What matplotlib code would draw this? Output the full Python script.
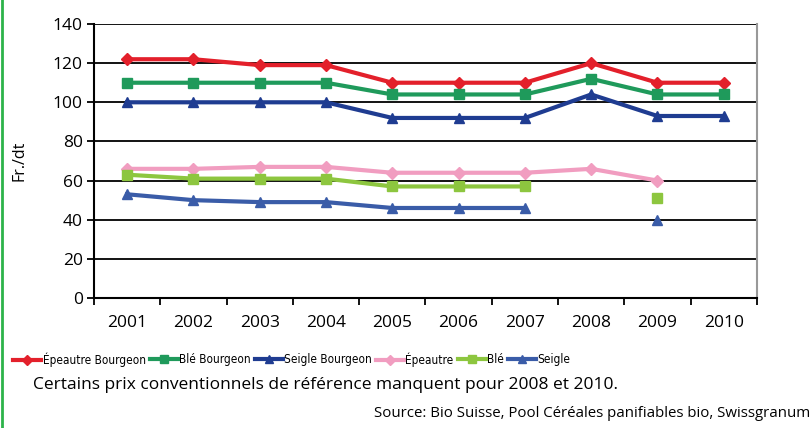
import numpy as np
import matplotlib.pyplot as plt
from matplotlib import font_manager
from matplotlib.lines import Line2D

years = ["2001", "2002", "2003", "2004", "2005", "2006", "2007", "2008", "2009", "2010"]
nan = np.nan

epeautre_bourgeon = [122, 122, 119, 119, 110, 110, 110, 120, 110, 110]
ble_bourgeon = [110, 110, 110, 110, 104, 104, 104, 112, 104, 104]
seigle_bourgeon = [100, 100, 100, 100, 92, 92, 92, 104, 93, 93]
epeautre = [66, 66, 67, 67, 64, 64, 64, 66, 60, nan]
ble = [63, 61, 61, 61, 57, 57, 57, nan, 51, nan]
seigle = [53, 50, 49, 49, 46, 46, 46, nan, 40, nan]

series = [
    ("Épeautre Bourgeon", epeautre_bourgeon, "#e3202b", "D"),
    ("Blé Bourgeon", ble_bourgeon, "#1f9a5b", "s"),
    ("Seigle Bourgeon", seigle_bourgeon, "#1f3c91", "^"),
    ("Épeautre", epeautre, "#f19dc0", "D"),
    ("Blé", ble, "#8dc63f", "s"),
    ("Seigle", seigle, "#3a5ca8", "^"),
]

plt.rcParams['font.family'] = ['Open Sans', 'DejaVu Sans']

# the legend uses a condensed regular face; pick one if installed
narrow = None
for f in font_manager.fontManager.ttflist:
    if (f.stretch in ("condensed", "semi-condensed", "extra-condensed")
            and f.style == "normal" and f.weight in (400, "normal", "regular", "book")):
        narrow = f.fname
        break
if narrow:
    leg_prop = font_manager.FontProperties(fname=narrow, size=8.5)
else:
    leg_prop = font_manager.FontProperties(family="Roboto", size=7.5)

fig = plt.figure(figsize=(8.1, 4.28), dpi=100)
ax = fig.add_axes([0.116, 0.3037, 0.8185, 0.6402])

x = np.arange(len(years))
handles = []
for name, vals, col, mk in series:
    ms = 6 if mk == "D" else 7
    h, = ax.plot(x, vals, color=col, lw=3, marker=mk, ms=ms, label=name, zorder=3)
    handles.append(h)

ax.set_xlim(-0.5, len(years) - 0.5)
ax.set_ylim(0, 140)
ax.set_yticks(range(0, 141, 20))
ax.yaxis.grid(True, color="black", lw=1.3)
ax.set_axisbelow(True)
ax.set_xticks(x)
ax.set_xticklabels(years, fontsize=12.5)
ax.set_xticks(np.arange(-0.5, len(years)), minor=True)
ax.tick_params(axis="x", which="major", length=0, pad=12)
ax.tick_params(axis="x", which="minor", length=5, width=1.3, direction="out")
ax.tick_params(axis="y", length=5, width=1.3, labelsize=12.5, pad=3)
for s in ["left", "bottom"]:
    ax.spines[s].set_linewidth(1.5)
    ax.spines[s].set_color("black")
ax.spines["top"].set_visible(False)
ax.spines["right"].set_color("#999999")
ax.spines["right"].set_linewidth(1.5)
ax.set_ylabel("Fr./dt", fontsize=11.5, labelpad=18)

# legend entries sit at uneven positions in the original;
# push an entry right if the previous one would run into it
leg_x = [13, 113, 222, 330, 375, 465]
renderer = fig.canvas.get_renderer()
prev_right = 0
for h, lx in zip(handles, leg_x):
    px = max(lx, prev_right + 4)
    lg = fig.legend([h], [h.get_label()], loc="center left",
                    bbox_to_anchor=(px / 810, 0.159), frameon=False,
                    prop=leg_prop, handlelength=2.4, handletextpad=0.1,
                    borderpad=0, borderaxespad=0, markerscale=0.8)
    prev_right = lg.get_window_extent(renderer).x1

fig.text(0.041, 0.1, "Certains prix conventionnels de référence manquent pour 2008 et 2010.",
         fontsize=12.5, va="center")
fig.text(1.0, 0.033, "Source: Bio Suisse, Pool Céréales panifiables bio, Swissgranum",
         fontsize=10.8, ha="right", va="center")

fig.add_artist(Line2D([0.002, 0.002], [0, 1], color="#2db34a", lw=2))

fig.savefig("out.png", dpi=100)
